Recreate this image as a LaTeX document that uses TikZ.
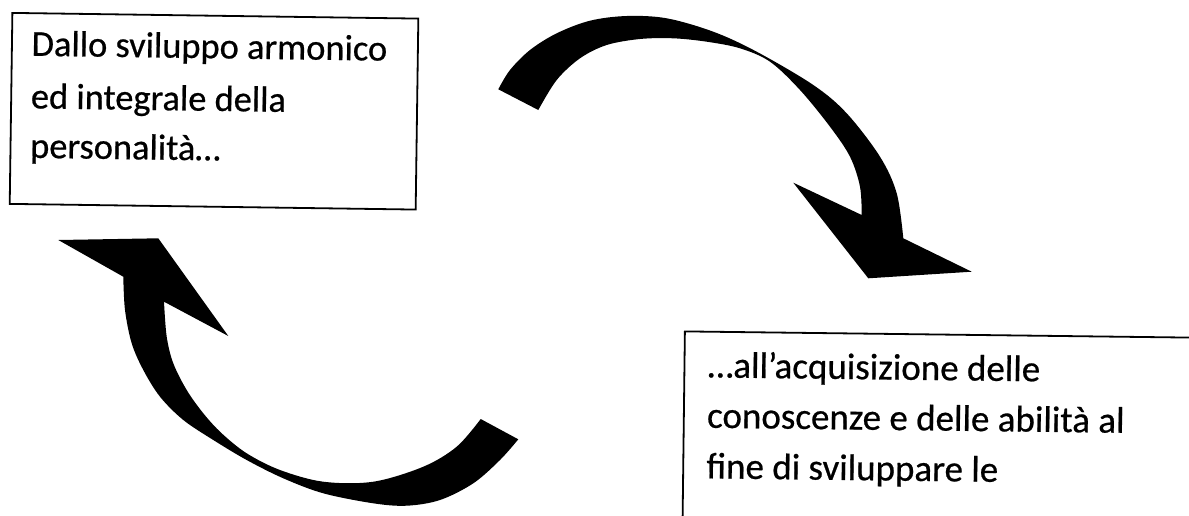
\documentclass[tikz,border=0pt]{standalone}
\usepackage{fontspec}
\setmainfont{Carlito}[FakeBold=0.6]
\begin{document}
\begin{tikzpicture}[x=1pt,y=-1pt,
  textbox/.style={draw=black,line width=1.8pt,inner sep=0pt,anchor=north west},
  linetext/.style={anchor=base west,inner sep=0pt,font=\fontsize{37}{51}\selectfont},
  smalltext/.style={linetext,font=\fontsize{36.4}{51}\selectfont},
  ribbon/.style={fill=black}]
\useasboundingbox (0,0) rectangle (1189,515);
\clip (0,0) rectangle (1189,515);
\fill[white] (0,0) rectangle (1189,515);

% box 1
\node[textbox,rotate=-0.8,minimum width=406pt,minimum height=191pt] (b1) at (11.5,12) {};
\node[smalltext,rotate=-0.8] (t1a) at (31.3,55.7) {Dallo sviluppo armonico};
\node[smalltext,rotate=-0.8] (t1b) at (30.6,108.3) {ed integrale della};
\node[smalltext,rotate=-0.8] (t1c) at (29.9,157.8) {personalità…};

% box 2
\node[textbox,rotate=-0.7,minimum width=560pt,minimum height=260pt] (b2) at (684,330.5) {};
\node[linetext,rotate=-0.7] (t2a) at (707.5,377.3) {…all’acquisizione delle};
\node[linetext,rotate=-0.7] (t2b) at (706.8,427.7) {conoscenze e delle abilità al};
\node[linetext,rotate=-0.7] (t2c) at (706.2,478.3) {fine di sviluppare le};

% top arrow
\fill[ribbon] (498.3,89.3) -- plot[smooth,tension=0.55] coordinates {
 (498.3,89.3) (510,70) (530,50) (556.7,33.3) (590,20.7) (626.7,16) (666.7,18.3)
 (713.3,31.7) (756.7,51.7) (813.3,85) (846.7,113.3) (880,156.7) (896.7,193.3) (903.3,238.3)}
 -- (971.7,271.7) -- (868.3,278.3) -- (793.3,182.7) -- (861.7,215)
 -- plot[smooth,tension=0.55] coordinates {
 (861.7,215) (860,186.7) (850,156.7) (830,126.7) (800,90) (770,61.7) (740,48.3)
 (706.7,41.7) (673.3,38.3) (640,39) (606.7,45) (580,58.3) (556.7,80) (538.3,110)}
 -- cycle;

% bottom arrow
\fill[ribbon] (123.3,276.7) -- (58.3,240) -- (158.3,238.3) -- (228.3,336) -- (164,301.7)
 -- plot[smooth,tension=0.55] coordinates {
 (164,301.7) (166.7,336.7) (173.3,363.3) (186.7,390) (203.3,413.3) (221.7,433.3)
 (246.7,453.3) (280,470) (323.3,481.7) (373.3,481.7) (423.3,466.7) (456.7,446.7) (480.7,419)}
 -- (518.3,439.3)
 -- plot[smooth,tension=0.55] coordinates {
 (518.3,439.3) (500,460) (473.3,483.3) (440,500) (406.7,505.7) (373.3,503.3)
 (323.3,493.3) (283.3,478.3) (246.7,460) (213.3,440) (183.3,420) (160,396.7)
 (143.3,370) (131.7,343.3) (125,310) (123.3,276.7)}
 -- cycle;
\end{tikzpicture}
\end{document}
